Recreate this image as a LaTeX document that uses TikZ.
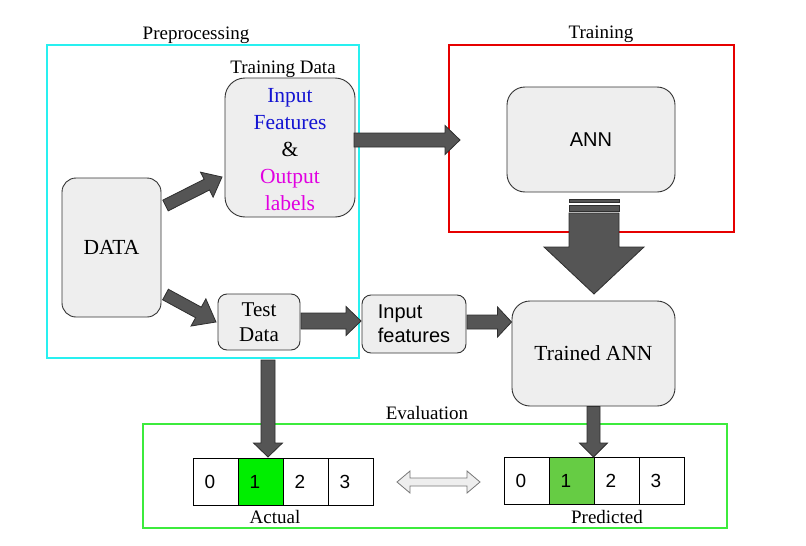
\documentclass[tikz,border=0pt]{standalone}
\usepackage{fontspec}
\setmainfont{Liberation Serif}
\newfontfamily\timesfont{Liberation Serif}
\newfontfamily\arialfont{Liberation Sans}
\usetikzlibrary{calc}
\definecolor{boxfill}{HTML}{EEEEEE}
\definecolor{boxline}{HTML}{333333}
\definecolor{arrfill}{HTML}{555555}
\definecolor{arrline}{HTML}{2E2E2E}
\definecolor{cyanframe}{RGB}{40,240,240}
\definecolor{redframe}{RGB}{230,0,0}
\definecolor{greenframe}{RGB}{60,235,60}
\definecolor{txtblue}{RGB}{20,20,210}
\definecolor{txtmag}{RGB}{225,0,225}
\definecolor{cellA}{RGB}{0,238,0}
\definecolor{cellP}{RGB}{102,204,68}
\definecolor{hollowline}{HTML}{777777}
\newcommand\blockarr[5]{%
  \coordinate (bah) at ($(#2)!#5!(#1)$);
  \path[blockarrow] ($(#1)!#3!90:(#2)$) -- ($(bah)!#3!90:(#2)$) -- ($(bah)!#4!90:(#2)$) -- (#2)
    -- ($(bah)!#4!-90:(#2)$) -- ($(bah)!#3!-90:(#2)$) -- ($(#1)!#3!-90:(#2)$) -- cycle;}
\tikzset{
  blockarrow/.style={fill=arrfill, draw=arrline, line width=0.8pt, line join=miter},
  rbox/.style={draw=boxline, fill=boxfill, line width=0.9pt, rectangle, inner sep=0pt},
  frame/.style={line width=2pt},
  lbl/.style={font=\timesfont\fontsize{19}{22}\selectfont, inner sep=0pt},
  bigtxt/.style={font=\timesfont\fontsize{21.5}{27}\selectfont, align=center},
  sanstxt/.style={font=\arialfont\fontsize{20}{24}\selectfont},
  cell/.style={draw=black, line width=0.8pt, rectangle, minimum width=45pt, minimum height=47pt, inner sep=0pt},
  digit/.style={font=\arialfont\fontsize{19}{22}\selectfont, inner sep=0pt}
}
\begin{document}
\begin{tikzpicture}[x=1pt,y=-1pt]
\useasboundingbox (0,0) rectangle (806,546);
% frames
\draw[frame, cyanframe] (47,45) rectangle (359,358);
\draw[frame, redframe] (449,45) rectangle (734,232);
\draw[frame, greenframe] (143,424) rectangle (727,528);
\node[lbl] (lpre) at (196,35) {Preprocessing};
\node[lbl] (ltrain) at (601,34) {Training};
\node[lbl] (leval) at (427,413) {Evaluation};
\node[lbl] (ltd) at (283,69) {Training Data};
% boxes
\node[rbox, rounded corners=14pt, minimum width=99pt, minimum height=139pt, bigtxt] (data) at (111.5,247.5) {DATA};
\node[rbox, rounded corners=20pt, minimum width=130pt, minimum height=139pt] (td) at (290,147.5) {};
\node[bigtxt, inner sep=0pt] (tdtext) at (290,149.5)
  {\textcolor{txtblue}{Input}\\\textcolor{txtblue}{Features}\\\&\\\textcolor{txtmag}{Output}\\\textcolor{txtmag}{labels}};
\node[rbox, rounded corners=9pt, minimum width=82pt, minimum height=56pt, bigtxt, font=\timesfont\fontsize{21}{25.5}\selectfont] (test) at (259,322) {Test\\Data};
\node[rbox, rounded corners=9pt, minimum width=104pt, minimum height=58pt, sanstxt, align=left] (inf) at (414,324) {Input\\features};
\node[rbox, rounded corners=18pt, minimum width=168pt, minimum height=105pt, sanstxt] (ann) at (591,139.5) {ANN};
\node[rbox, rounded corners=18pt, minimum width=163pt, minimum height=105pt, bigtxt] (tann) at (593.5,353.5) {Trained ANN};
% cells
\foreach \i/\c in {0/white,1/cellA,2/white,3/white}{
  \node[cell, fill=\c] (a\i) at (215.5+45*\i,481.5) {};
  \node[digit] at ($(a\i.center)+(-5.5,0)$) {\i};
}
\foreach \i/\c in {0/white,1/cellP,2/white,3/white}{
  \node[cell, fill=\c] (p\i) at (526.5+45*\i,480.5) {};
  \node[digit] at ($(p\i.center)+(-5.5,0)$) {\i};
}
\node[lbl] (lact) at (275,517) {Actual};
\node[lbl] (lpred) at (607,517) {Predicted};
% arrow end points
\coordinate (d1s) at (165.5,205.5); \coordinate (d1e) at (222,177);
\coordinate (d2s) at (165.5,294.5); \coordinate (d2e) at (216,322);
\coordinate (t1s) at (354,140);     \coordinate (t1e) at (460,140);
\coordinate (t2s) at (301,321);     \coordinate (t2e) at (361,321);
\coordinate (i1s) at (467,322);     \coordinate (i1e) at (tann.west |- 0,322);
\coordinate (v1s) at (268,360);     \coordinate (v1e) at (268,457);
\coordinate (v2s) at (tann.south);  \coordinate (v2e) at (593.5,457);
\coordinate (bgs) at (594,213);     \coordinate (bge) at (594,294);
% block arrows
\blockarr{d1s}{d1e}{6pt}{14pt}{17pt}
\blockarr{d2s}{d2e}{6pt}{15.5pt}{20pt}
\blockarr{t1s}{t1e}{7pt}{14.5pt}{15pt}
\blockarr{t2s}{t2e}{8pt}{14.5pt}{15pt}
\blockarr{i1s}{i1e}{7pt}{15pt}{14pt}
\blockarr{v1s}{v1e}{7pt}{14.5pt}{14pt}
\blockarr{v2s}{v2e}{6.5pt}{14pt}{14pt}
\blockarr{bgs}{bge}{25pt}{50pt}{47pt}
\path[blockarrow] (569,199) rectangle (619,202);
\path[blockarrow] (569,205) rectangle (619,211);
% hollow double arrow
\coordinate (hA) at (397,482); \coordinate (hB) at (480,482);
\coordinate (hA2) at ($(hA)!13pt!(hB)$); \coordinate (hB2) at ($(hB)!13pt!(hA)$);
\path[fill=boxfill, draw=hollowline, line width=0.8pt]
  (hA) -- ($(hA2)!11pt!90:(hB)$) -- ($(hA2)!4pt!90:(hB)$) -- ($(hB2)!4pt!-90:(hA)$) -- ($(hB2)!11pt!-90:(hA)$)
  -- (hB) -- ($(hB2)!11pt!90:(hA)$) -- ($(hB2)!4pt!90:(hA)$) -- ($(hA2)!4pt!-90:(hB)$) -- ($(hA2)!11pt!-90:(hB)$) -- cycle;
\end{tikzpicture}
\end{document}
